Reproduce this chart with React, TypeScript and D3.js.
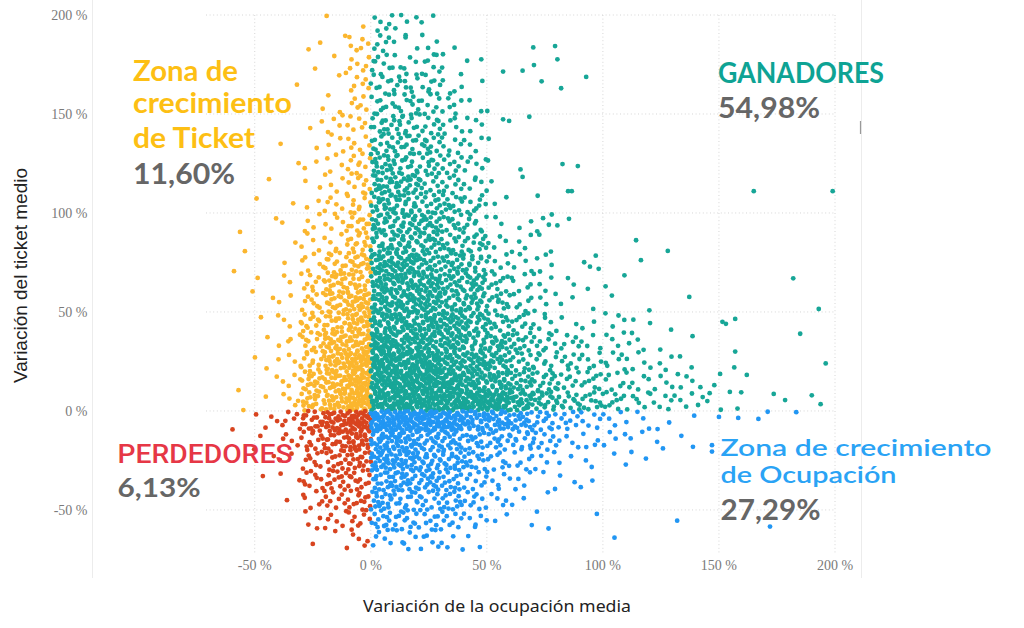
import React from "react";
import * as d3 from "d3";

// ---------- data ----------
const xTicks = [-50, 0, 50, 100, 150, 200];
const yTicks = [-50, 0, 50, 100, 150, 200];
const xTickLabels = ["-50 %", "0 %", "50 %", "100 %", "150 %", "200 %"];
const yTickLabels = ["-50 %", "0 %", "50 %", "100 %", "150 %", "200 %"];

// Density, one row per 10 % band of ticket variation (lower bound),
// one digit per 10 % band of occupancy variation (lower bound). Digit = density level.
const bandY = [190, 180, 170, 160, 150, 140, 130, 120, 110, 100, 90, 80, 70, 60, 50, 40, 30, 20, 10, 0, -10, -20, -30, -40, -50, -60, -70];
const bandX = [-70, -60, -50, -40, -30, -20, -10, 0, 10, 20, 30, 40, 50, 60, 70, 80, 90, 100, 110, 120, 130, 140, 150, 160, 170, 180, 190];
const densityNeg = [
  "0000011", "0000214", "0000124", "0001014", "0000124", "0000234", "0001134", "0001235", "0010235", "0011245",
  "0111346", "0101346", "0101467", "0112577", "0012578", "0013678", "0013688", "0023689", "0113789", "0113789",
  "0134789", "0113678", "0012567", "0012566", "0001456", "0000345", "0000123",
];
const densityPos = [
  "43200000000000000000", "43320000000000000000", "54421000000000000000", "55531000000000000000", "55542000000000000000",
  "66543000000000000000", "66643000000000000000", "76654000000000000000", "77654000000000000000", "77665200000000000000",
  "77765223200000000000", "77766332000110000000", "88776433030100000000", "88877543212000000000", "88877643211011000000",
  "88887654223120000000", "98887765433311000000", "99988765544332000000", "99998876554433000000", "99999987665443000000",
  "99998876543321000000", "88776665333222000000", "88776543222200000000", "77765432220000000000", "76665321000000000000",
  "66554212000000000000", "44432000000000000000",
];
const levelCounts = [0, 1, 2, 4, 6, 9, 13, 19, 27, 40];

// Isolated points read individually [occupancy %, ticket %]
const isolated: [number, number][] = [
  [57, 171.4], [65.4, 171.9], [70.3, 174.7], [70, 183.6], [79.4, 184.3], [80.4, 177.6], [73.6, 166.5], [82, 163],
  [92.8, 168.7], [57, 147.3], [59.6, 146.5], [68.3, 148.6], [64.5, 122], [65.4, 118.2], [82.6, 124.7], [89.2, 123.7],
  [71.9, 108.7], [85, 111], [86.6, 111], [165, 111], [199, 111], [50.2, 151.5], [50.8, 137.5], [50.5, 126.5],
  [52, 116], [47.6, 177.6], [182, 67], [193, 51.5], [151.5, 45], [153, 44], [157, 46.5], [185, 39], [157, 30],
  [196, 24], [156.6, 22], [150.5, 18.7], [162, 18.2], [148, 13], [142, 12], [154.7, 9.6], [159.6, 9.4], [173.6, 8.6],
  [178.5, 5.5], [190, 7.9], [193.8, 3.4], [158, 1.2], [150.8, 0.6], [145, 5], [146, 9], [143, 7], [141, 3],
  [171, -0.4], [183.3, -0.6], [167, -4], [158.3, -3.5], [150, -3], [147, -17.3], [147, -20.5],
  [132, -55.4], [172, -58.4], [105, -64], [97.4, -52],
];

const zoneLabels = [
  { lines: ["Zona de", "crecimiento", "de Ticket"], pct: "11,60%" },
  { lines: ["GANADORES"], pct: "54,98%" },
  { lines: ["PERDEDORES"], pct: "6,13%" },
  { lines: ["Zona de crecimiento", "de Ocupación"], pct: "27,29%" },
];

// ---------- styles ----------
const TEAL = "#17a697";
const YELLOW = "#fbb62e";
const RED = "#d8441f";
const BLUE = "#2196f3";

const W = 1024;
const H = 628;

type P = { x: number; y: number };

function halton(i: number, b: number) {
  let f = 1;
  let r = 0;
  while (i > 0) {
    f /= b;
    r += f * (i % b);
    i = Math.floor(i / b);
  }
  return r;
}

function buildPoints(): P[] {
  const pts: P[] = [];
  let k = 0;
  bandY.forEach((y0, r) => {
    const row = densityNeg[r] + densityPos[r];
    for (let c = 0; c < bandX.length; c++) {
      const n = levelCounts[+row[c]];
      const x0 = bandX[c];
      for (let i = 0; i < n; i++) {
        const s = i + k * 29 + 7;
        const u = halton(s, 2);
        const v = halton(s, 3);
        pts.push({ x: x0 + u * 10, y: y0 + v * 10 });
      }
      k++;
    }
  });
  isolated.forEach(([x, y]) => pts.push({ x, y }));
  return pts;
}

const colorOf = (p: P) => (p.y >= 0 ? (p.x >= 0 ? TEAL : YELLOW) : p.x >= 0 ? BLUE : RED);

export default function App() {
  const x = d3.scaleLinear().domain([-71, 200]).range([206, 835]);
  const y = d3.scaleLinear().domain([-72, 200]).range([553.5, 15]);
  const pts = buildPoints();
  const order = [YELLOW, RED, TEAL, BLUE];
  const sorted = [...pts].sort((a, b) => order.indexOf(colorOf(a)) - order.indexOf(colorOf(b)));

  const bold = { fontFamily: "Lato, 'Open Sans', sans-serif", fontWeight: 700 } as const;
  const grid = { stroke: "#d6d6d6", strokeDasharray: "1 2.6", strokeWidth: 1 };

  return (
    <svg width={W} height={H} style={{ position: "absolute", left: 0, top: 0, background: "#fff" }}>
      {/* frame lines */}
      <line x1={92.5} x2={92.5} y1={0} y2={578} stroke="#ececec" />
      <line x1={861.5} x2={861.5} y1={0} y2={578} stroke="#ececec" />
      <line x1={860.5} x2={860.5} y1={121} y2={134} stroke="#999" strokeWidth={1.2} />

      {/* grid */}
      {yTicks.map((t) => (
        <line key={"gy" + t} x1={x(-71)} x2={x(200)} y1={y(t)} y2={y(t)} {...grid} />
      ))}
      {xTicks.map((t) => (
        <line key={"gx" + t} x1={x(t)} x2={x(t)} y1={y(200)} y2={y(-72)} {...grid} />
      ))}

      {/* points */}
      <g>
        {sorted.map((p, i) => (
          <circle key={i} cx={x(p.x)} cy={y(p.y)} r={2.4} fill={colorOf(p)} />
        ))}
      </g>

      {/* tick labels */}
      {xTicks.map((t, i) => (
        <text key={"xl" + t} x={x(t)} y={570} textAnchor="middle" fontFamily="'Liberation Serif', 'DejaVu Serif', serif" fontSize={14} fill="#7a7a7a">
          {xTickLabels[i]}
        </text>
      ))}
      {yTicks.map((t, i) => (
        <text key={"yl" + t} x={87.5} y={y(t) + 5} textAnchor="end" fontFamily="'Liberation Serif', 'DejaVu Serif', serif" fontSize={14} fill="#7a7a7a">
          {yTickLabels[i]}
        </text>
      ))}

      {/* axis titles */}
      <text x={363} y={611.5} fontFamily="'Noto Sans', 'Open Sans', sans-serif" fontSize={17} fill="#222" textLength={268} lengthAdjust="spacingAndGlyphs">
        Variación de la ocupación media
      </text>
      <text transform="translate(26.5,383) rotate(-90)" x={0} y={0} fontFamily="'Liberation Sans', Arial, sans-serif" fontSize={18} fill="#222" textLength={215} lengthAdjust="spacingAndGlyphs">
        Variación del ticket medio
      </text>

      {/* zone annotations */}
      <g style={bold}>
        <text x={133} y={81} fontSize={29} fill="#fdbf14" textLength={105} lengthAdjust="spacingAndGlyphs">{zoneLabels[0].lines[0]}</text>
        <text x={133} y={113} fontSize={29} fill="#fdbf14" textLength={159} lengthAdjust="spacingAndGlyphs">{zoneLabels[0].lines[1]}</text>
        <text x={133} y={148} fontSize={29} fill="#fdbf14" textLength={122} lengthAdjust="spacingAndGlyphs">{zoneLabels[0].lines[2]}</text>
        <text x={133} y={184} fontSize={29} fill="#666" textLength={102} lengthAdjust="spacingAndGlyphs">{zoneLabels[0].pct}</text>

        <text x={718} y={82.7} fontSize={28} fill="#0ea394" textLength={166} lengthAdjust="spacingAndGlyphs">{zoneLabels[1].lines[0]}</text>
        <text x={718} y={118.3} fontSize={28} fill="#666" textLength={102} lengthAdjust="spacingAndGlyphs">{zoneLabels[1].pct}</text>

        <text x={117.5} y={462.7} fontSize={26} fill="#e63746" fontFamily="Roboto, sans-serif" fontWeight={500} textLength={175} lengthAdjust="spacingAndGlyphs">{zoneLabels[2].lines[0]}</text>
        <text x={117.5} y={497.3} fontSize={27} fill="#666" textLength={83} lengthAdjust="spacingAndGlyphs">{zoneLabels[2].pct}</text>

        <text x={720.5} y={456} fontSize={23.5} fill="#2aa3f5" fontWeight={600} textLength={271} lengthAdjust="spacingAndGlyphs">{zoneLabels[3].lines[0]}</text>
        <text x={720.5} y={482.7} fontSize={23.5} fill="#2aa3f5" fontWeight={600} textLength={176} lengthAdjust="spacingAndGlyphs">{zoneLabels[3].lines[1]}</text>
        <text x={720.5} y={520} fontSize={28} fill="#666" textLength={100} lengthAdjust="spacingAndGlyphs">{zoneLabels[3].pct}</text>
      </g>
    </svg>
  );
}
